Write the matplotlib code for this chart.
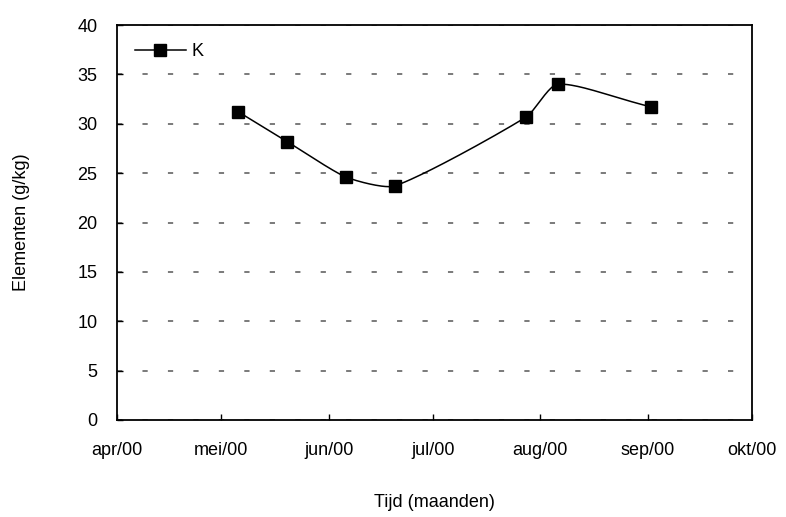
import numpy as np
import matplotlib
matplotlib.use("Agg")
import matplotlib.pyplot as plt
import matplotlib.dates as mdates
from datetime import date

plt.rcParams['font.family'] = ['Liberation Sans', 'DejaVu Sans']

# data
dates = [date(2000, 5, 6), date(2000, 5, 20), date(2000, 6, 6), date(2000, 6, 20),
         date(2000, 7, 28), date(2000, 8, 6), date(2000, 9, 2)]
k_values = [31.2, 28.2, 24.6, 23.7, 30.7, 34.0, 31.7]
month_ticks = [date(2000, m, 1) for m in range(4, 11)]
month_labels = ['apr/00', 'mei/00', 'jun/00', 'jul/00', 'aug/00', 'sep/00', 'okt/00']


def smooth(pts, n=40, f=1 / 3):
    # smoothed line a la Excel: Bezier pieces, control arms scaled by segment length
    pts = np.asarray(pts, float)
    out = []
    m = len(pts)
    for i in range(m - 1):
        p0, p1 = pts[max(i - 1, 0)], pts[i]
        p2, p3 = pts[i + 1], pts[min(i + 2, m - 1)]
        seg = np.hypot(*(p2 - p1))
        t1 = p2 - p0
        t2 = p3 - p1
        c1 = p1 + t1 / np.hypot(*t1) * seg * f * 0.5 * (2 if i == 0 else 1)
        c2 = p2 - t2 / np.hypot(*t2) * seg * f * 0.5 * (2 if i == m - 2 else 1)
        t = np.linspace(0, 1, n)[:, None]
        out.append((1 - t) ** 3 * p1 + 3 * (1 - t) ** 2 * t * c1
                   + 3 * (1 - t) * t ** 2 * c2 + t ** 3 * p2)
    return np.vstack(out)


fig = plt.figure(figsize=(7.86, 5.17), dpi=100)
ax = fig.add_axes([117 / 786, 1 - 420 / 517, (752 - 117) / 786, (420 - 25) / 517])

ax.set_xlim(mdates.date2num(month_ticks[0]), mdates.date2num(month_ticks[-1]))
ax.set_ylim(0, 40)

xnum = mdates.date2num(dates)
# smoothing is done in screen space, like the spreadsheet does
disp = ax.transData.transform(np.column_stack([xnum, k_values]))
curve = ax.transData.inverted().transform(smooth(disp, f=0.4))
ax.plot(curve[:, 0], curve[:, 1], color='black', linewidth=1.1)
ax.plot(xnum, k_values, linestyle='none', marker='s', markersize=8.6, color='black')
ax.plot([], [], color='black', linewidth=1.1, marker='s', markersize=8.6, label='K')

ax.set_xticks(mdates.date2num(month_ticks))
ax.set_xticklabels(month_labels)
ax.set_yticks(np.arange(0, 41, 5))
ax.tick_params(direction='in', length=4, width=1, labelsize=13)
ax.tick_params(axis='x', pad=16)
ax.tick_params(axis='y', pad=14)
ax.yaxis.grid(True, linestyle=(0, (2.9, 11.2)), color='#707070', linewidth=1.3)
for s in ax.spines.values():
    s.set_linewidth(1.3)

ax.set_xlabel('Tijd (maanden)', fontsize=13, labelpad=25)
ax.set_ylabel('Elementen (g/kg)', fontsize=13, labelpad=34)

ax.legend(loc='upper left', frameon=False, fontsize=13, handlelength=2.8,
          handletextpad=0.3, borderaxespad=0.5, borderpad=0.5)

fig.savefig('out.png', dpi=100)
